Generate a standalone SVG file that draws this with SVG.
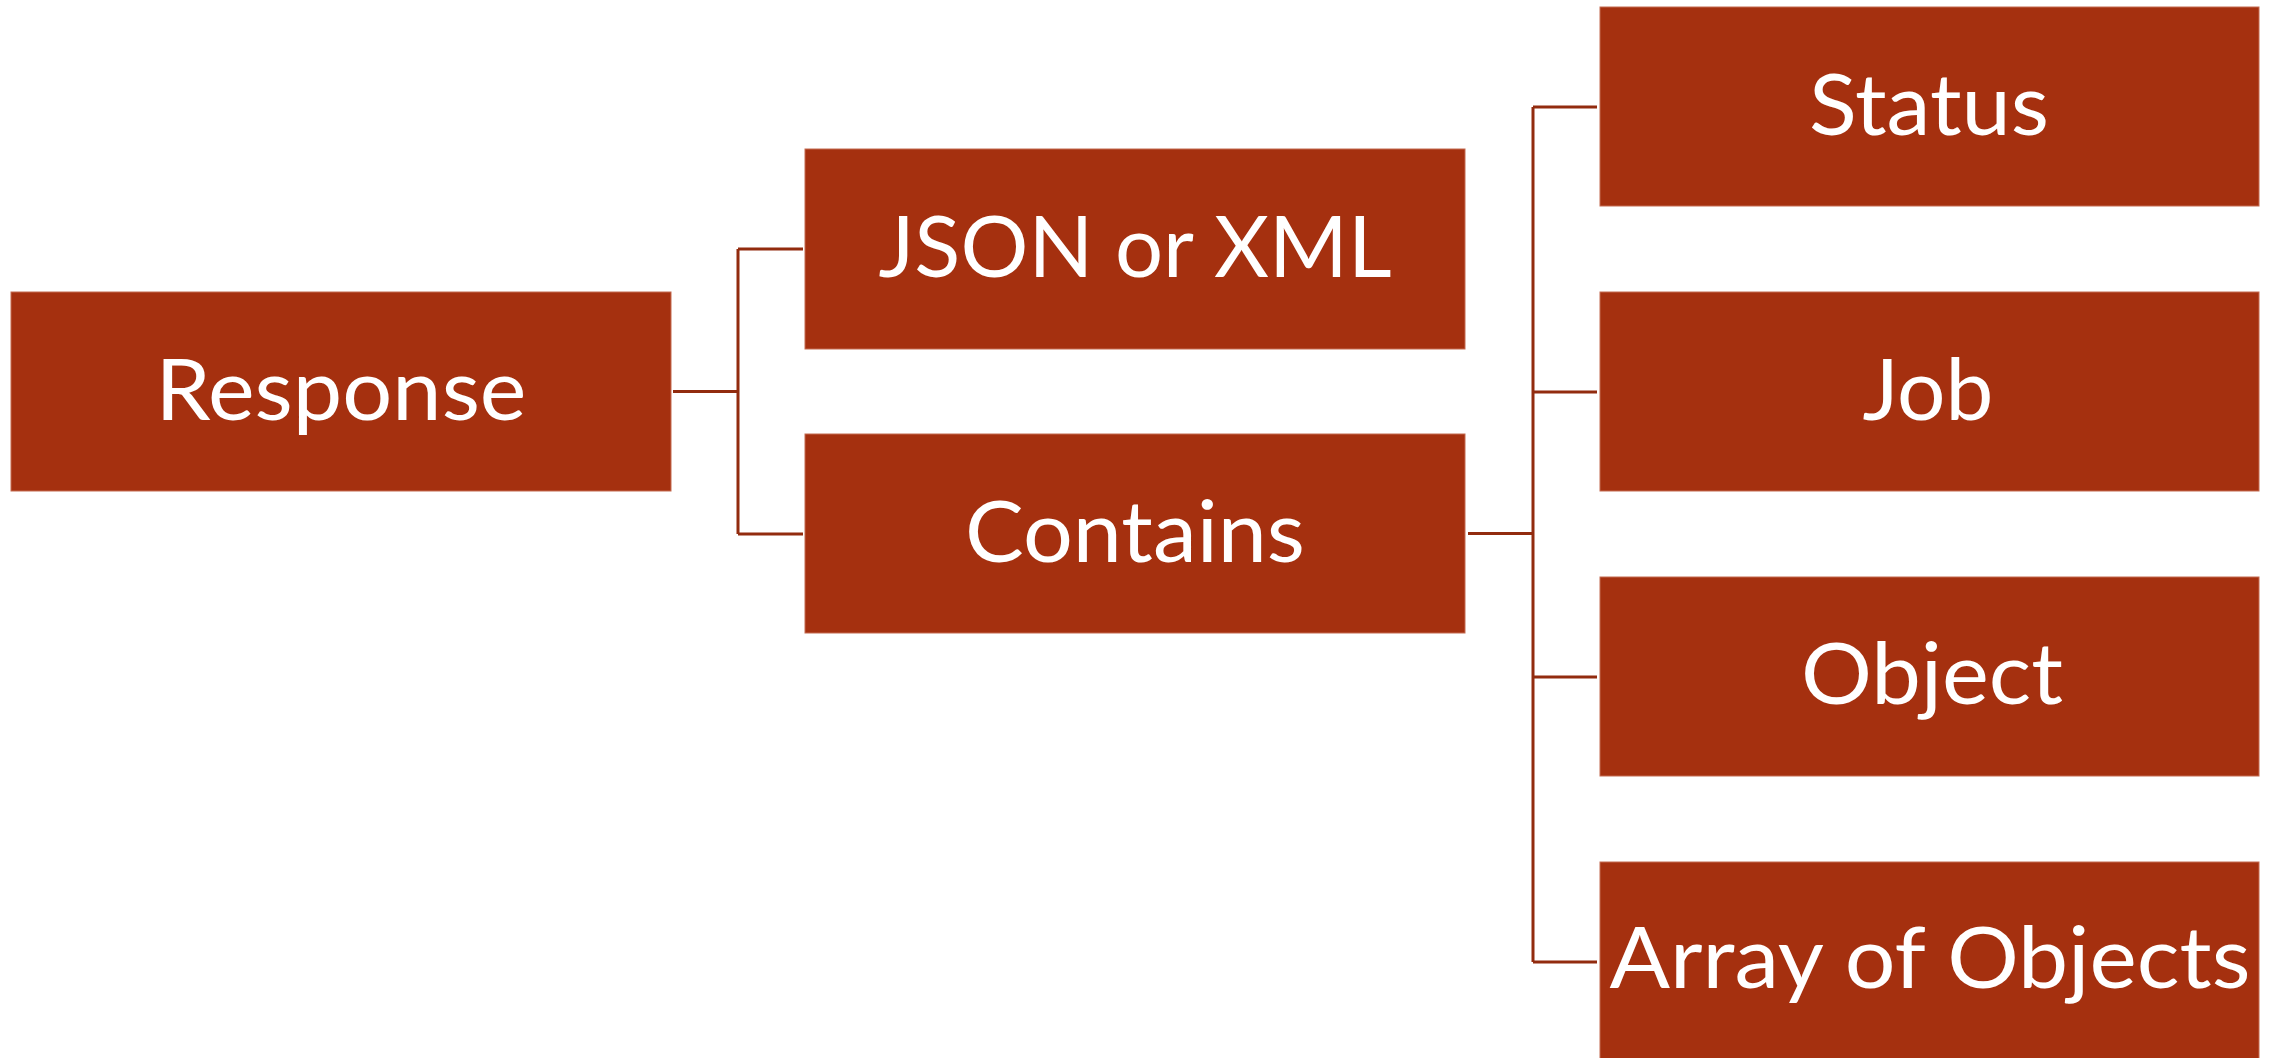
<svg xmlns="http://www.w3.org/2000/svg" width="2280" height="1058" viewBox="0 0 2280 1058">
<style>
.box{fill:#A5300F;stroke:#C46A50;stroke-width:1}
.lbl{fill:#FFFFFF;font-family:Lato,"Open Sans","Liberation Sans",sans-serif;font-size:86px;text-anchor:middle}
.con{fill:none;stroke:#922B0E;stroke-width:3}
</style>
<rect width="2280" height="1058" fill="#FFFFFF"/>
<g id="connectors">
<path class="con" d="M673,391.5 H738 M738,249 V534 M738,249 H803 M738,534 H803"/>
<path class="con" d="M1468,533.5 H1533 M1533,107 V962 M1533,107 H1597 M1533,392 H1597 M1533,677 H1597 M1533,962 H1597"/>
</g>
<g id="response">
<rect class="box" x="11" y="292" width="660" height="199"/>
<text class="lbl" x="341" y="420" textLength="371" lengthAdjust="spacingAndGlyphs">Response</text>
</g>
<g id="json-or-xml">
<rect class="box" x="805" y="149" width="660" height="200"/>
<text class="lbl" x="1135" y="277" textLength="513" lengthAdjust="spacingAndGlyphs">JSON or XML</text>
</g>
<g id="contains">
<rect class="box" x="805" y="434" width="660" height="199"/>
<text class="lbl" x="1135" y="562" textLength="340" lengthAdjust="spacingAndGlyphs">Contains</text>
</g>
<g id="status">
<rect class="box" x="1600" y="7" width="659" height="199"/>
<text class="lbl" x="1929" y="135" textLength="240" lengthAdjust="spacingAndGlyphs">Status</text>
</g>
<g id="job">
<rect class="box" x="1600" y="292" width="659" height="199"/>
<text class="lbl" x="1928" y="420" textLength="131" lengthAdjust="spacingAndGlyphs">Job</text>
</g>
<g id="object">
<rect class="box" x="1600" y="577" width="659" height="199"/>
<text class="lbl" x="1932" y="704" textLength="262" lengthAdjust="spacingAndGlyphs">Object</text>
</g>
<g id="array-of-objects">
<rect class="box" x="1600" y="862" width="659" height="199"/>
<text class="lbl" x="1930" y="988" textLength="641" lengthAdjust="spacingAndGlyphs">Array of Objects</text>
</g>
</svg>
